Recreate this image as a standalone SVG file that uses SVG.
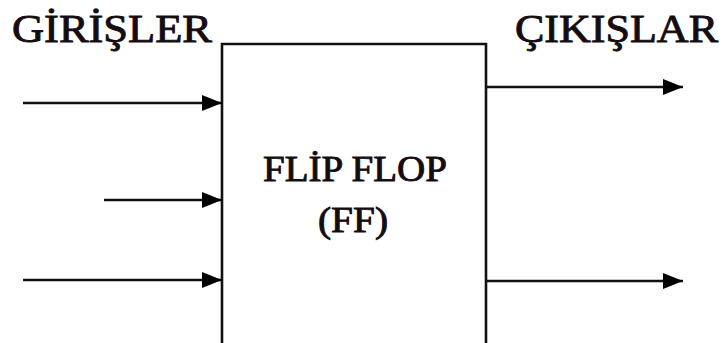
<svg xmlns="http://www.w3.org/2000/svg" width="723" height="343" viewBox="0 0 723 343">
  <style>
    .lbl { font-family: "Liberation Serif", "Times New Roman", serif; fill: #140c10; stroke: #140c10; stroke-width: 0.9; }
    .wire { stroke: #111; stroke-width: 2.6; fill: none; }
    .box { stroke: #111; stroke-width: 2.6; fill: #fff; }
  </style>
  <defs>
    <marker id="arrow" markerUnits="userSpaceOnUse" markerWidth="22" markerHeight="18" refX="20" refY="8" orient="auto">
      <polygon points="0,0 20,8 0,16" fill="#000"/>
    </marker>
  </defs>
  <rect width="723" height="343" fill="#fff"/>

  <!-- flip-flop block (open at the bottom edge) -->
  <g id="ff">
    <path class="box" d="M222,345 V44 H486 V345"/>
    <text class="lbl" x="355" y="181" font-size="35" text-anchor="middle" textLength="184" lengthAdjust="spacingAndGlyphs">FLİP FLOP</text>
    <text class="lbl" x="353" y="232" font-size="35" text-anchor="middle" textLength="70" lengthAdjust="spacingAndGlyphs">(FF)</text>
  </g>

  <g id="inputs-label">
    <text class="lbl" x="12" y="42" font-size="40" textLength="200" lengthAdjust="spacingAndGlyphs">GİRİŞLER</text>
  </g>
  <g id="outputs-label">
    <text class="lbl" x="515" y="42" font-size="40" textLength="203" lengthAdjust="spacingAndGlyphs">ÇIKIŞLAR</text>
  </g>

  <!-- connectors -->
  <g id="connectors">
    <line class="wire" x1="23" y1="103" x2="222" y2="103" marker-end="url(#arrow)"/>
    <line class="wire" x1="104" y1="200" x2="222" y2="200" marker-end="url(#arrow)"/>
    <line class="wire" x1="23" y1="280" x2="222" y2="280" marker-end="url(#arrow)"/>
    <line class="wire" x1="486" y1="87" x2="683" y2="87" marker-end="url(#arrow)"/>
    <line class="wire" x1="486" y1="281" x2="683" y2="281" marker-end="url(#arrow)"/>
  </g>
</svg>
